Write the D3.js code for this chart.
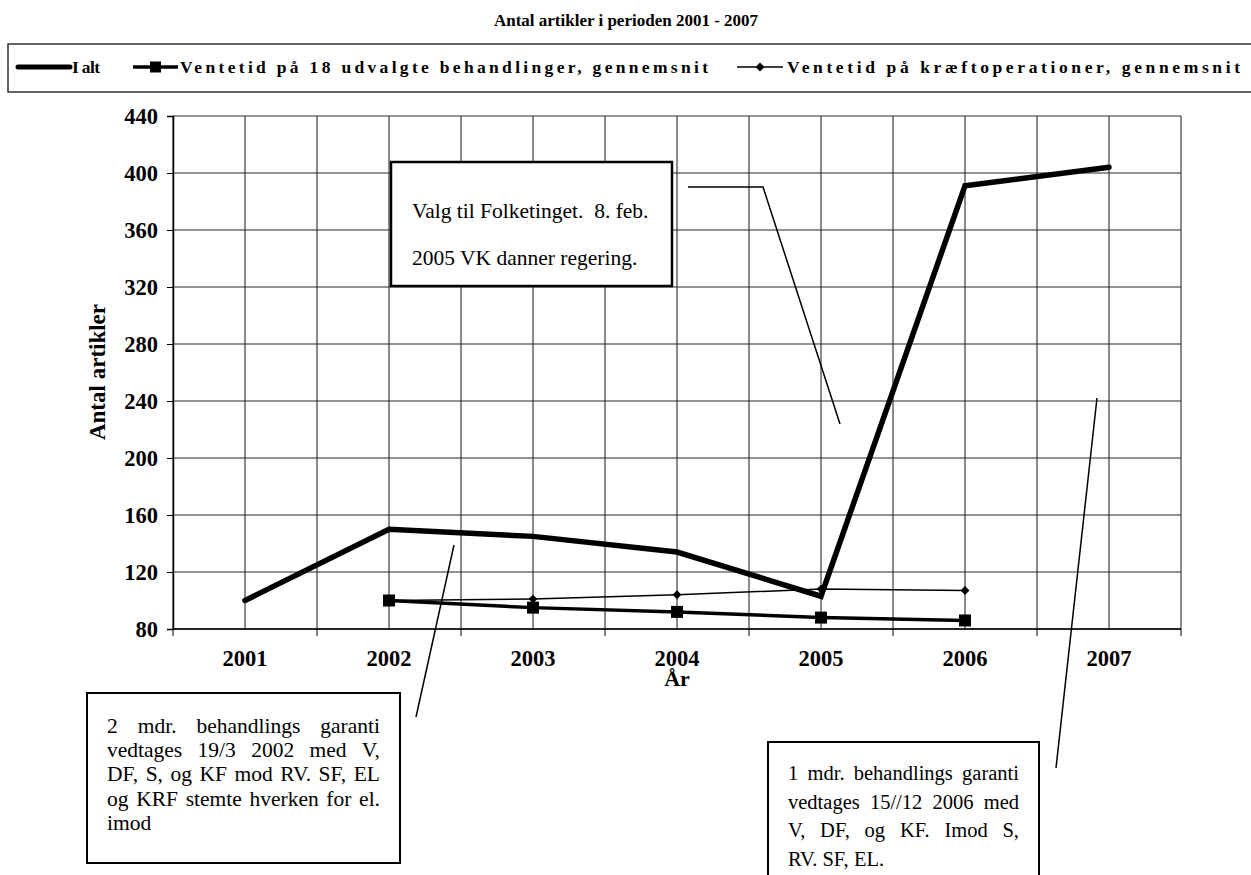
<!DOCTYPE html>
<html>
<head>
<meta charset="utf-8">
<script src="https://cdn.jsdelivr.net/npm/d3@7"></script>
<style>
  html, body { margin: 0; padding: 0; background: #fff; }
  svg { display: block; }
  text { font-family: "Liberation Serif", "Times New Roman", serif; fill: #000; white-space: pre; }
</style>
</head>
<body>
<svg id="chart" width="1251" height="875"></svg>
<script>
// Number of newspaper articles per year, with two waiting-time series
const years = ["2001", "2002", "2003", "2004", "2005", "2006", "2007"];
const totalArticles = [100, 150, 145, 134, 103, 391, 404];
const wait18Treatments = [null, 100, 95, 92, 88, 86, null];
const waitCancerOps = [null, 100, 101, 104, 108, 107, null];
const yTicks = [80, 120, 160, 200, 240, 280, 320, 360, 400, 440];

const seriesNames = [
  "I alt",
  "Ventetid på 18 udvalgte behandlinger, gennemsnit",
  "Ventetid på kræftoperationer, gennemsnit"
];

const titleText = "Antal artikler i perioden 2001 - 2007";
const yTitle = "Antal artikler";
const xTitle = "År";

const noteElection = ["Valg til Folketinget.  8. feb.", "2005 VK danner regering."];
const note2002 = [
  "2 mdr. behandlings garanti",
  "vedtages 19/3 2002 med V,",
  "DF, S, og KF mod RV. SF, EL",
  "og KRF stemte hverken for el.",
  "imod"
];
const note2006 = [
  "1 mdr. behandlings garanti",
  "vedtages 15//12  2006 med",
  "V, DF,   og KF.  Imod S,",
  "RV. SF, EL."
];

const svg = d3.select("#chart");

const plot = { left: 173, right: 1181, top: 116, bottom: 629 };

const x = d3.scaleBand().domain(years).range([plot.left, plot.right]).padding(0);
const y = d3.scaleLinear().domain([80, 440]).range([plot.bottom, plot.top]);
const cx = d => x(d) + x.bandwidth() / 2;

// Title
svg.append("text")
  .attr("x", 626).attr("y", 26)
  .attr("text-anchor", "middle")
  .attr("font-size", 17).attr("font-weight", "bold")
  .text(titleText);

// Legend frame
const lg = svg.append("g");
lg.append("rect")
  .attr("x", 8).attr("y", 44).attr("width", 1260).attr("height", 48)
  .attr("fill", "#fff").attr("stroke", "#333").attr("stroke-width", 1.5);

const legendItems = [
  { x0: 18, x1: 70, tx: 72, tw: 28, width: 5, marker: null },
  { x0: 133, x1: 178, tx: 180, tw: 528, width: 3.5, marker: "square" },
  { x0: 737, x1: 783, tx: 787, tw: 453, width: 1.5, marker: "diamond" }
];
const legendY = 67;
legendItems.forEach((it, i) => {
  lg.append("line")
    .attr("x1", it.x0).attr("x2", it.x1)
    .attr("y1", legendY).attr("y2", legendY)
    .attr("stroke", "#000").attr("stroke-width", it.width)
    .attr("stroke-linecap", i === 0 ? "round" : "butt");
  const mx = (it.x0 + it.x1) / 2;
  if (it.marker === "square") {
    lg.append("rect").attr("x", mx - 5.5).attr("y", legendY - 5.5)
      .attr("width", 11).attr("height", 11).attr("fill", "#000");
  } else if (it.marker === "diamond") {
    lg.append("path")
      .attr("d", d3.symbol(d3.symbolDiamond2, 50)())
      .attr("transform", `translate(${mx},${legendY})`)
      .attr("fill", "#000");
  }
  lg.append("text")
    .attr("x", it.tx).attr("y", legendY + 6)
    .attr("font-size", 17.5).attr("font-weight", "bold")
    .attr("textLength", it.tw).attr("lengthAdjust", "spacing")
    .text(seriesNames[i]);
});

// Gridlines: horizontal at each tick, vertical at band edges and centres
const grid = svg.append("g").attr("stroke", "#2a2a2a").attr("stroke-width", 1.1);
grid.selectAll("line.h").data(yTicks).join("line")
  .attr("class", "h")
  .attr("x1", plot.left).attr("x2", plot.right)
  .attr("y1", d => y(d)).attr("y2", d => y(d));

const vPos = [];
years.forEach(yr => { vPos.push(x(yr)); vPos.push(cx(yr)); });
vPos.push(plot.right);
grid.selectAll("line.v").data(vPos).join("line")
  .attr("class", "v")
  .attr("x1", d => d).attr("x2", d => d)
  .attr("y1", plot.top).attr("y2", plot.bottom);

// Y axis
const yAxis = d3.axisLeft(y).tickValues(yTicks).tickSize(6).tickPadding(9);
const yg = svg.append("g").attr("transform", `translate(${plot.left},0)`).call(yAxis);
yg.select(".domain").attr("stroke", "#000").attr("stroke-width", 1.5);
yg.selectAll(".tick line").attr("stroke", "#000");
yg.selectAll(".tick text")
  .attr("font-size", 22.5).attr("font-weight", "bold")
  .attr("font-family", "Liberation Serif, Times New Roman, serif")
  .attr("fill", "#000");

// X axis: ticks at band edges, labels at centres
const xg = svg.append("g").attr("transform", `translate(0,${plot.bottom})`);
xg.append("line")
  .attr("x1", plot.left).attr("x2", plot.right)
  .attr("y1", 0).attr("y2", 0)
  .attr("stroke", "#000").attr("stroke-width", 1.5);
const edges = years.map(yr => x(yr)).concat([plot.right]);
xg.selectAll("line.t").data(edges).join("line")
  .attr("class", "t")
  .attr("x1", d => d).attr("x2", d => d)
  .attr("y1", 0).attr("y2", 7)
  .attr("stroke", "#000");
xg.selectAll("text").data(years).join("text")
  .attr("x", d => cx(d)).attr("y", 37)
  .attr("text-anchor", "middle")
  .attr("font-size", 22.5).attr("font-weight", "bold")
  .text(d => d);

// Axis titles
svg.append("text")
  .attr("transform", "translate(105,372) rotate(-90)")
  .attr("text-anchor", "middle")
  .attr("font-size", 23).attr("font-weight", "bold")
  .text(yTitle);
svg.append("text")
  .attr("x", 677).attr("y", 686)
  .attr("text-anchor", "middle")
  .attr("font-size", 22).attr("font-weight", "bold")
  .text(xTitle);

// Series
const lineGen = vals => d3.line()
  .defined(d => d[1] != null)
  .x(d => cx(d[0]))
  .y(d => y(d[1]))(years.map((yr, i) => [yr, vals[i]]));

const series = svg.append("g");
// Cancer operations: thin line with diamonds
series.append("path")
  .attr("d", lineGen(waitCancerOps))
  .attr("fill", "none").attr("stroke", "#000").attr("stroke-width", 1.5);
series.selectAll("path.dia")
  .data(years.map((yr, i) => [yr, waitCancerOps[i]]).filter(d => d[1] != null))
  .join("path").attr("class", "dia")
  .attr("d", d3.symbol(d3.symbolDiamond2, 50)())
  .attr("transform", d => `translate(${cx(d[0])},${y(d[1])})`)
  .attr("fill", "#000");

// 18 treatments: medium line with squares
series.append("path")
  .attr("d", lineGen(wait18Treatments))
  .attr("fill", "none").attr("stroke", "#000").attr("stroke-width", 3.5);
series.selectAll("rect.sq")
  .data(years.map((yr, i) => [yr, wait18Treatments[i]]).filter(d => d[1] != null))
  .join("rect").attr("class", "sq")
  .attr("x", d => cx(d[0]) - 6).attr("y", d => y(d[1]) - 6)
  .attr("width", 12).attr("height", 12).attr("fill", "#000");

// Total articles: thick line
series.append("path")
  .attr("d", lineGen(totalArticles))
  .attr("fill", "none").attr("stroke", "#000").attr("stroke-width", 5.5)
  .attr("stroke-linejoin", "miter").attr("stroke-linecap", "round");

// Annotations
const notes = svg.append("g");
const thin = sel => sel.attr("fill", "none").attr("stroke", "#000").attr("stroke-width", 1.5);

// Election note with leader
notes.append("rect")
  .attr("x", 391).attr("y", 162).attr("width", 281).attr("height", 124)
  .attr("fill", "#fff").attr("stroke", "#000").attr("stroke-width", 2.5);
noteElection.forEach((t, i) => {
  notes.append("text")
    .attr("x", 412).attr("y", 218 + i * 47)
    .attr("font-size", 21.5).text(t);
});
notes.append("path").attr("d", "M688,187 L763,187 L840,424").call(thin);

// Justified multi-line text block
function justified(lines, left, right, baseline, lineGap, size) {
  lines.forEach((ln, i) => {
    const yy = baseline + i * lineGap;
    const words = ln.split(/\s+/).filter(w => w.length);
    const last = i === lines.length - 1;
    const nodes = words.map(w => notes.append("text")
      .attr("y", yy).attr("font-size", size).text(w));
    const widths = nodes.map(n => n.node().getComputedTextLength());
    const total = d3.sum(widths);
    const gap = (last || words.length < 2) ? size * 0.25
      : (right - left - total) / (words.length - 1);
    let xx = left;
    nodes.forEach((n, k) => { n.attr("x", xx); xx += widths[k] + gap; });
  });
}

// 2002 guarantee note
notes.append("rect")
  .attr("x", 87).attr("y", 693).attr("width", 313).attr("height", 170)
  .attr("fill", "#fff").attr("stroke", "#000").attr("stroke-width", 2);
justified(note2002, 107, 380, 733, 24.2, 21.5);
notes.append("line")
  .attr("x1", 416).attr("y1", 717).attr("x2", 454).attr("y2", 545).call(thin);

// 2006 guarantee note
notes.append("rect")
  .attr("x", 768).attr("y", 742).attr("width", 271).attr("height", 160)
  .attr("fill", "#fff").attr("stroke", "#000").attr("stroke-width", 2);
justified(note2006, 788, 1019, 780, 28.7, 20.5);
notes.append("line")
  .attr("x1", 1056).attr("y1", 768).attr("x2", 1097).attr("y2", 398).call(thin);
</script>
</body>
</html>
